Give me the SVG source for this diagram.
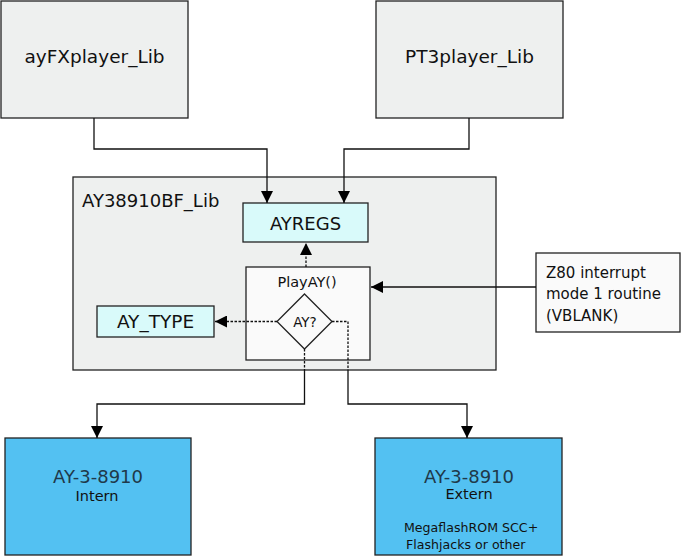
<svg xmlns="http://www.w3.org/2000/svg" width="681" height="557" viewBox="0 0 681 557">
<defs>
<style>
text{font-family:"DejaVu Sans","Liberation Sans",sans-serif;fill:#111}
.box{stroke:#222;stroke-width:1.3}
.grey{fill:#eef0ef}
.cyan{fill:#d9fafa}
.white{fill:#fafafa}
.blue{fill:#53c1f2}
.ln{fill:none;stroke:#111;stroke-width:1.3}
.dash{stroke-dasharray:2.5,1.5}
</style>
<marker id="ah" viewBox="0 0 12 12" refX="12" refY="6" markerWidth="12" markerHeight="12" markerUnits="userSpaceOnUse" orient="auto">
<path d="M0,0 L12,6 L0,12 Z" fill="#000"/>
</marker>
</defs>
<rect width="681" height="557" fill="#fff"/>
<g id="ayFXplayer_Lib">
<rect class="box grey" x="1" y="1" width="187" height="117"/>
<text x="94.5" y="63" font-size="18.5" text-anchor="middle">ayFXplayer_Lib</text>
</g>
<g id="PT3player_Lib">
<rect class="box grey" x="376" y="1" width="187" height="117"/>
<text x="469.5" y="63" font-size="18.5" text-anchor="middle">PT3player_Lib</text>
</g>
<g id="AY38910BF_Lib">
<rect class="box grey" x="73" y="177" width="423" height="193"/>
<text x="82" y="207" font-size="18">AY38910BF_Lib</text>
</g>
<g id="AYREGS">
<rect class="box cyan" x="243" y="203" width="125" height="39"/>
<text x="305.5" y="230" font-size="18" text-anchor="middle">AYREGS</text>
</g>
<g id="PlayAY">
<rect class="box white" x="246" y="267" width="124" height="93"/>
<text x="307" y="287" font-size="14.5" text-anchor="middle">PlayAY()</text>
</g>
<g id="AY_decision">
<path class="box" fill="#fafafa" d="M304.5,294 L332,321.5 L304.5,349 L277,321.5 Z"/>
<text x="305" y="327" font-size="13.5" text-anchor="middle">AY?</text>
</g>
<g id="AY_TYPE">
<rect class="box cyan" x="97" y="306" width="117" height="31"/>
<text x="155.5" y="328" font-size="18.5" text-anchor="middle">AY_TYPE</text>
</g>
<g id="Z80_interrupt">
<rect class="box" fill="#fafafa" x="536" y="253" width="144" height="79"/>
<text x="546" y="278" font-size="15">Z80 interrupt</text>
<text x="546" y="299" font-size="15">mode 1 routine</text>
<text x="546" y="321" font-size="15">(VBLANK)</text>
</g>
<g id="AY_Intern">
<rect class="box blue" x="5" y="438" width="186" height="117"/>
<text x="98" y="483" font-size="18" text-anchor="middle" style="fill:#20394a">AY-3-8910</text>
<text x="97" y="501" font-size="14.5" text-anchor="middle">Intern</text>
</g>
<g id="AY_Extern">
<rect class="box blue" x="375" y="438" width="187" height="117"/>
<text x="469" y="483" font-size="18" text-anchor="middle" style="fill:#20394a">AY-3-8910</text>
<text x="469" y="499" font-size="14.5" text-anchor="middle">Extern</text>
<text x="404" y="532" font-size="12.6">MegaflashROM SCC+</text>
<text x="406" y="549" font-size="12.6">Flashjacks or other</text>
</g>
<g id="connectors">
<path class="ln" d="M94,118 V149 H267 V203" marker-end="url(#ah)"/>
<path class="ln" d="M469,118 V149 H344 V203" marker-end="url(#ah)"/>
<path class="ln dash" d="M306,267 V243" marker-end="url(#ah)"/>
<path class="ln" d="M536,287 H371" marker-end="url(#ah)"/>
<path class="ln dash" d="M277,321.5 H215" marker-end="url(#ah)"/>
<path class="ln dash" d="M304.5,349 V370"/>
<path class="ln" d="M304.5,370 V404 H97 V438" marker-end="url(#ah)"/>
<path class="ln dash" d="M332,321.5 H348 V370"/>
<path class="ln" d="M348,370 V404 H467 V438" marker-end="url(#ah)"/>
</g>
</svg>
